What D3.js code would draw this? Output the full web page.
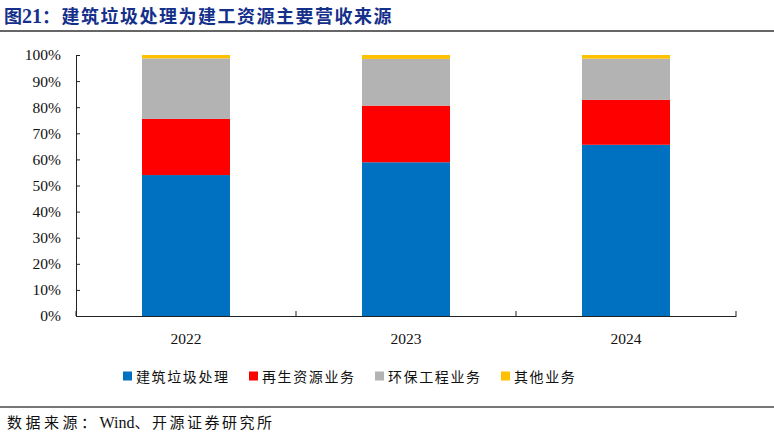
<!DOCTYPE html>
<html>
<head>
<meta charset="utf-8">
<script src="https://cdn.jsdelivr.net/npm/d3@7"></script>
<style>
  body { margin: 0; background: #fff; }
  svg { display: block; }
</style>
</head>
<body>
<script>
const years = ['2022', '2023', '2024'];
const seriesNames = ['建筑垃圾处理', '再生资源业务', '环保工程业务', '其他业务'];
const wasteShare = [54.0, 58.9, 65.6];
const recycleShare = [21.5, 21.7, 17.2];
const engShare = [23.2, 17.9, 15.8];
const otherShare = [1.3, 1.5, 1.4];
const yTicks = [0, 10, 20, 30, 40, 50, 60, 70, 80, 90, 100];
const colors = ['#0070C0', '#FF0000', '#B3B3B3', '#FFC000'];

const W = 774, H = 437;
const margin = { left: 76, right: 38, top: 55, bottom: 121 };
const serif = '"Liberation Serif", "Times New Roman", serif';
const cjk = '"Noto Sans CJK SC", sans-serif';

const rows = years.map((y, i) => ({
  year: y,
  [seriesNames[0]]: wasteShare[i],
  [seriesNames[1]]: recycleShare[i],
  [seriesNames[2]]: engShare[i],
  [seriesNames[3]]: otherShare[i]
}));
const stacked = d3.stack().keys(seriesNames)(rows);

const svg = d3.select('body').append('svg')
  .attr('width', W).attr('height', H);

// title
const title = svg.append('text')
  .attr('x', 4).attr('y', 23)
  .attr('fill', '#14308a')
  .attr('font-weight', 'bold')
  .attr('font-size', '18px');
title.append('tspan').attr('font-family', cjk).text('图');
title.append('tspan').attr('font-family', serif).attr('font-size', '20px').text('21');
title.append('tspan').attr('font-family', cjk).attr('letter-spacing', '1.5px').text('：建筑垃圾处理为建工资源主要营收来源');

svg.append('line')
  .attr('x1', 0).attr('x2', W).attr('y1', 31).attr('y2', 31)
  .attr('stroke', '#333').attr('stroke-width', 1.5);

const x = d3.scaleBand()
  .domain(years)
  .range([margin.left, W - margin.right])
  .paddingInner(0.6).paddingOuter(0.3);
const xb = d3.scaleBand().domain(years).range([margin.left, W - margin.right]);
const y = d3.scaleLinear().domain([0, 100]).range([H - margin.bottom, margin.top]);

// bars
svg.append('g').selectAll('g')
  .data(stacked)
  .join('g')
  .attr('fill', (d, i) => colors[i])
  .selectAll('rect')
  .data(d => d)
  .join('rect')
  .attr('x', d => x(d.data.year))
  .attr('width', x.bandwidth())
  .attr('y', d => y(d[1]))
  .attr('height', d => y(d[0]) - y(d[1]));

// y axis
const yAxis = svg.append('g')
  .attr('transform', `translate(${margin.left},0)`)
  .call(d3.axisRight(y).tickValues(yTicks).tickSize(4).tickFormat(d => d + '%'));
yAxis.select('.domain').attr('stroke', '#222');
yAxis.selectAll('.tick line').attr('stroke', '#222');
yAxis.selectAll('.tick text')
  .attr('x', -15).attr('text-anchor', 'end')
  .attr('font-family', serif).attr('font-size', '15.5px').attr('fill', '#111');

// x axis
const xAxis = svg.append('g')
  .attr('transform', `translate(0,${H - margin.bottom})`)
  .call(d3.axisBottom(x).tickSize(0).tickSizeOuter(0));
xAxis.select('.domain').attr('stroke', '#222');
xAxis.selectAll('.tick text')
  .attr('y', 17).attr('dy', '0.71em')
  .attr('font-family', serif).attr('font-size', '15.5px').attr('fill', '#111');
const bounds = years.map(d => xb(d)).concat([W - margin.right]);
svg.append('g').selectAll('line')
  .data(bounds)
  .join('line')
  .attr('x1', d => d).attr('x2', d => d)
  .attr('y1', H - margin.bottom).attr('y2', H - margin.bottom - 5)
  .attr('stroke', '#222');

// legend
const legendX = [123, 249, 375, 501];
const lg = svg.append('g').selectAll('g')
  .data(seriesNames)
  .join('g')
  .attr('transform', (d, i) => `translate(${legendX[i]},376)`);
lg.append('rect')
  .attr('x', 0).attr('y', -4.5).attr('width', 9).attr('height', 9)
  .attr('fill', (d, i) => colors[i]);
lg.append('text')
  .attr('x', 13).attr('y', 5.5)
  .attr('font-family', cjk).attr('font-size', '14px')
  .attr('letter-spacing', '1.6px').attr('fill', '#111')
  .text(d => d);

// footer
svg.append('line')
  .attr('x1', 0).attr('x2', W).attr('y1', 407).attr('y2', 407)
  .attr('stroke', '#777').attr('stroke-width', 2);
const src = svg.append('text')
  .attr('x', 7).attr('y', 428)
  .attr('font-size', '15px').attr('fill', '#111');
src.append('tspan').attr('font-family', cjk).attr('letter-spacing', '3.5px').text('数据来源：');
src.append('tspan').attr('font-family', serif).attr('font-size', '16px').text('Wind');
src.append('tspan').attr('font-family', cjk).attr('letter-spacing', '2.5px').text('、开源证券研究所');
</script>
</body>
</html>
